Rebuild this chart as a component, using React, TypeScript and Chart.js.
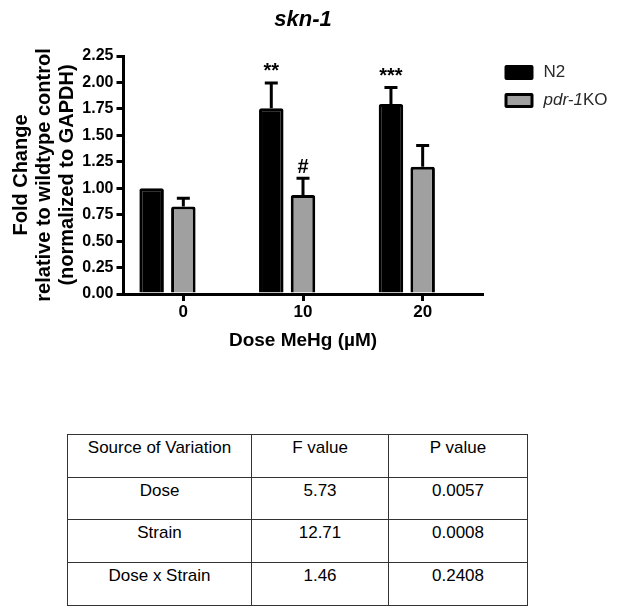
import React, { useEffect, useRef } from 'react';
import { Chart, registerables } from 'chart.js';

Chart.register(...registerables);

// ---- chart data ----
const doseLabels = ['0', '10', '20'];
const seriesNames = ['N2', 'pdr-1KO'];
const seriesItalicParts = ['', 'pdr-1'];
const n2Means = [1.0, 1.755, 1.796];
const n2Errors = [0, 0.255, 0.17];
const pdrMeans = [0.827, 0.936, 1.203];
const pdrErrors = [0.093, 0.173, 0.215];
const n2Marks = ['', '**', '***'];
const pdrMarks = ['', '#', ''];
const yMax = 2.25;
const yStep = 0.25;
const chartTitle = 'skn-1';
const yTitleLines = ['Fold Change', 'relative to wildtype control', '(normalized to GAPDH)'];
const xTitle = 'Dose MeHg (\u00b5M)';

// ---- table data ----
const tableHeaders = ['Source of Variation', 'F value', 'P value'];
const sources = ['Dose', 'Strain', 'Dose x Strain'];
const fValues = ['5.73', '12.71', '1.46'];
const pValues = ['0.0057', '0.0008', '0.2408'];

const FONT = '"Liberation Sans", Arial, Helvetica, sans-serif';
const GRAY = '#a0a0a0';

const errorBarPlugin = {
  id: 'errorBars',
  afterDatasetsDraw(chart: any) {
    const ctx = chart.ctx;
    const yScale = chart.scales.y;
    const groups: [number[], number[], string[]][] = [
      [n2Means, n2Errors, n2Marks],
      [pdrMeans, pdrErrors, pdrMarks],
    ];
    groups.forEach(([means, errs, marks], d) => {
      const meta = chart.getDatasetMeta(d);
      meta.data.forEach((el: any, i: number) => {
        const x = el.x;
        const top = yScale.getPixelForValue(means[i] + errs[i]);
        ctx.save();
        ctx.strokeStyle = '#000';
        ctx.lineWidth = 3;
        if (errs[i] > 0) {
          ctx.beginPath();
          ctx.moveTo(x, el.y);
          ctx.lineTo(x, top + 1.5);
          ctx.moveTo(x - 6.5, top + 1.5);
          ctx.lineTo(x + 6.5, top + 1.5);
          ctx.stroke();
        }
        if (marks[i]) {
          ctx.fillStyle = '#000';
          ctx.font = `bold 20px ${FONT}`;
          ctx.textAlign = 'center';
          ctx.textBaseline = 'alphabetic';
          ctx.fillText(marks[i], x, top - 4);
        }
        ctx.restore();
      });
    });
  },
};

const legendPlugin = {
  id: 'customLegend',
  afterDraw(chart: any) {
    const ctx = chart.ctx;
    const area = chart.chartArea;
    const x0 = area.right + 22;
    const y0 = area.top + 9;
    const fills = ['#000', GRAY];
    seriesNames.forEach((name, i) => {
      const by = y0 + i * 28;
      ctx.save();
      ctx.fillStyle = '#000';
      ctx.beginPath();
      ctx.roundRect(x0, by, 29, 15, 2);
      ctx.fill();
      ctx.fillStyle = fills[i];
      ctx.fillRect(x0 + 3, by + 3, 23, 9);
      ctx.fillStyle = '#2a2a2a';
      ctx.textBaseline = 'middle';
      ctx.textAlign = 'left';
      let tx = x0 + 39;
      const ty = by + 7.5;
      const it = seriesItalicParts[i];
      let rest = name;
      if (it && name.startsWith(it)) {
        ctx.font = `italic 17px ${FONT}`;
        ctx.fillText(it, tx, ty);
        tx += ctx.measureText(it).width;
        rest = name.slice(it.length);
      }
      ctx.font = `17px ${FONT}`;
      ctx.fillText(rest, tx, ty);
      ctx.restore();
    });
  },
};

export default function App() {
  const canvasRef = useRef<HTMLCanvasElement>(null);

  useEffect(() => {
    const canvas = canvasRef.current;
    if (!canvas) return;
    const chart = new Chart(canvas, {
      type: 'bar',
      data: {
        labels: doseLabels,
        datasets: [
          {
            label: seriesNames[0],
            data: n2Means,
            backgroundColor: '#000',
            borderColor: '#000',
            borderWidth: 3,
            borderRadius: 2,
            categoryPercentage: 0.795,
            barPercentage: 0.773,
          },
          {
            label: seriesNames[1],
            data: pdrMeans,
            backgroundColor: GRAY,
            borderColor: '#000',
            borderWidth: 3,
            borderRadius: 2,
            categoryPercentage: 0.795,
            barPercentage: 0.773,
          },
          {
            // empty slot so the grey bar sits on the category tick
            label: '',
            data: [null, null, null],
            backgroundColor: 'rgba(0,0,0,0)',
            borderWidth: 0,
            categoryPercentage: 0.795,
            barPercentage: 0.773,
          },
        ],
      },
      options: {
        responsive: false,
        animation: false,
        devicePixelRatio: 1,
        layout: { padding: { left: 0, right: 141.5, top: 0, bottom: 0 } },
        plugins: {
          legend: { display: false },
          tooltip: { enabled: false },
          title: {
            display: true,
            text: chartTitle,
            fullSize: false,
            color: '#000',
            font: { family: FONT, size: 22, weight: 'bold', style: 'italic' },
            padding: { top: 7, bottom: 22.6 },
          },
        },
        scales: {
          x: {
            type: 'category',
            offset: true,
            afterFit: (scale: any) => {
              scale.height = 76;
            },
            grid: {
              display: true,
              offset: false,
              drawOnChartArea: false,
              drawTicks: true,
              tickLength: 7,
              lineWidth: 3,
              color: '#000',
            },
            border: { display: true, width: 3, color: '#000' },
            ticks: {
              color: '#000',
              padding: 1,
              font: { family: FONT, size: 17, weight: 'bold' },
            },
            title: {
              display: true,
              text: xTitle,
              color: '#000',
              font: { family: FONT, size: 19, weight: 'bold', lineHeight: '23px' },
              padding: { top: 0, bottom: 17.5 },
            },
          },
          y: {
            min: 0,
            max: yMax,
            afterFit: (scale: any) => {
              scale.width = 123.5;
            },
            grid: {
              display: true,
              drawOnChartArea: false,
              drawTicks: true,
              tickLength: 7,
              lineWidth: 3,
              color: '#000',
            },
            border: { display: true, width: 3, color: '#000' },
            ticks: {
              stepSize: yStep,
              color: '#000',
              padding: 3,
              font: { family: FONT, size: 16, weight: 'bold' },
              callback: (v: any) => Number(v).toFixed(2),
            },
            title: {
              display: true,
              text: yTitleLines,
              color: '#000',
              font: { family: FONT, size: 20, weight: 'bold', lineHeight: '23px' },
              padding: { top: 9.5, bottom: 0 },
            },
          },
        },
      },
      plugins: [errorBarPlugin, legendPlugin],
    } as any);
    return () => chart.destroy();
  }, []);

  const cellStyle: React.CSSProperties = {
    border: '1px solid #333',
    textAlign: 'center',
    verticalAlign: 'top',
    paddingTop: 3,
    paddingBottom: 0,
    paddingLeft: 0,
    paddingRight: 0,
    height: 38.7,
    boxSizing: 'border-box',
  };

  return (
    <div style={{ position: 'absolute', left: 0, top: 0, width: 624, height: 611, background: '#fff' }}>
      <canvas
        ref={canvasRef}
        width={624}
        height={370}
        style={{ position: 'absolute', left: 0, top: 0, width: 624, height: 370 }}
      />
      <table
        style={{
          position: 'absolute',
          left: 67,
          top: 434,
          width: 460,
          borderCollapse: 'collapse',
          tableLayout: 'fixed',
          fontFamily: FONT,
          fontSize: 17,
          lineHeight: '19px',
          color: '#000',
        }}
      >
        <colgroup>
          <col style={{ width: 184 }} />
          <col style={{ width: 137 }} />
          <col style={{ width: 139 }} />
        </colgroup>
        <tbody>
          <tr style={{ height: 42.7 }}>
            {tableHeaders.map((h) => (
              <td key={h} style={cellStyle}>{h}</td>
            ))}
          </tr>
          {sources.map((s, i) => (
            <tr key={s} style={{ height: 42.7 }}>
              <td style={cellStyle}>{s}</td>
              <td style={cellStyle}>{fValues[i]}</td>
              <td style={cellStyle}>{pValues[i]}</td>
            </tr>
          ))}
        </tbody>
      </table>
    </div>
  );
}
